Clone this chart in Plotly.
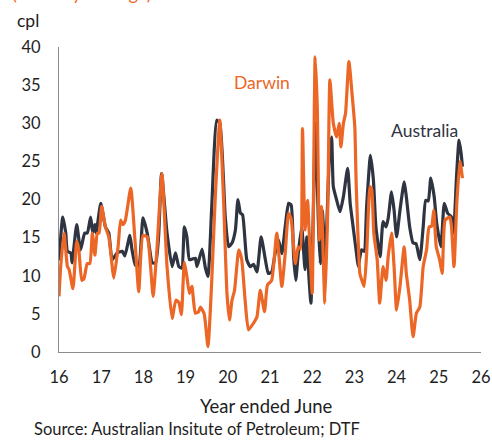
import plotly.graph_objects as go

# Australia (cents per litre), x in decimal "year ended June"
aus_x = [16.00, 16.09, 16.16, 16.20, 16.28, 16.31, 16.42, 16.51, 16.61, 16.67, 16.75, 16.80, 16.85, 16.88,
         16.99, 17.10, 17.18, 17.26, 17.38, 17.50, 17.56, 17.68, 17.73, 17.81, 17.89, 17.99, 18.09, 18.14,
         18.21, 18.29, 18.36, 18.43, 18.56, 18.68, 18.76, 18.84, 18.91, 18.97, 19.03, 19.09, 19.16, 19.23,
         19.27, 19.39, 19.47, 19.53, 19.62, 19.74, 19.81, 19.94, 20.02, 20.10, 20.18, 20.24, 20.30, 20.35,
         20.45, 20.53, 20.61, 20.69, 20.79, 20.89, 20.96, 21.04, 21.12, 21.20, 21.28, 21.36, 21.44, 21.50,
         21.56, 21.61, 21.67, 21.75, 21.83, 21.87, 21.92, 21.97, 22.03, 22.08, 22.15, 22.19, 22.24, 22.31,
         22.41, 22.46, 22.50, 22.58, 22.66, 22.74, 22.84, 22.90, 22.97, 23.05, 23.09, 23.17, 23.23, 23.29,
         23.38, 23.45, 23.51, 23.61, 23.68, 23.75, 23.80, 23.88, 23.94, 24.00, 24.08, 24.18, 24.23, 24.31,
         24.39, 24.46, 24.55, 24.63, 24.69, 24.75, 24.81, 24.89, 24.95, 25.05, 25.13, 25.21, 25.30, 25.35,
         25.42, 25.48, 25.53, 25.56]
aus_y = [12.0, 17.7, 15.6, 13.2, 13.0, 11.7, 16.7, 13.4, 15.6, 15.6, 17.7, 15.6, 16.7, 15.6,
         19.5, 16.4, 15.6, 12.1, 13.0, 13.2, 12.6, 15.3, 13.4, 11.4, 11.3, 17.6, 15.6, 13.8,
         11.7, 11.7, 15.1, 23.4, 15.6, 11.2, 13.0, 11.2, 11.0, 16.4, 15.1, 12.1, 12.2, 12.3,
         11.2, 13.5, 11.0, 9.9, 19.1, 30.4, 30.0, 17.7, 13.8, 14.3, 16.0, 20.0, 18.2, 18.0,
         12.1, 11.2, 11.5, 10.5, 15.1, 12.1, 10.3, 10.5, 12.9, 14.7, 12.9, 16.4, 19.5, 19.3,
         12.5, 9.4, 12.9, 16.4, 10.8, 15.1, 10.0, 6.4, 19.1, 30.0, 16.4, 11.6, 18.5, 12.5,
         26.0, 28.2, 21.7, 19.9, 18.4, 20.4, 24.1, 19.5, 16.4, 12.9, 11.2, 13.4, 13.2, 19.1,
         25.8, 22.6, 16.4, 12.5, 17.1, 16.4, 17.5, 21.0, 18.6, 15.1, 18.6, 22.3, 20.4, 16.4,
         14.3, 14.2, 12.1, 16.4, 19.9, 19.8, 22.8, 20.4, 16.9, 13.8, 19.5, 18.2, 17.7, 15.6,
         23.0, 27.8, 26.0, 24.3]

# Darwin (cents per litre)
dar_x = [16.00, 16.04, 16.12, 16.20, 16.24, 16.33, 16.42, 16.47, 16.54, 16.59, 16.67, 16.73, 16.79, 16.85,
         16.91, 16.95, 17.01, 17.10, 17.18, 17.30, 17.40, 17.46, 17.51, 17.57, 17.70, 17.80, 17.89, 17.99,
         18.09, 18.17, 18.23, 18.32, 18.44, 18.56, 18.68, 18.77, 18.84, 18.90, 18.97, 19.03, 19.09, 19.15,
         19.23, 19.31, 19.35, 19.44, 19.53, 19.62, 19.70, 19.81, 19.90, 19.98, 20.04, 20.10, 20.16, 20.26,
         20.33, 20.41, 20.49, 20.61, 20.69, 20.77, 20.87, 20.94, 21.04, 21.16, 21.28, 21.36, 21.44, 21.50,
         21.60, 21.67, 21.72, 21.77, 21.83, 21.89, 21.95, 22.00, 22.07, 22.12, 22.17, 22.22, 22.30, 22.37,
         22.42, 22.50, 22.58, 22.64, 22.68, 22.74, 22.79, 22.87, 22.95, 23.01, 23.04, 23.13, 23.17, 23.23,
         23.29, 23.37, 23.41, 23.46, 23.54, 23.60, 23.68, 23.75, 23.80, 23.88, 23.94, 24.00, 24.08, 24.18,
         24.23, 24.31, 24.39, 24.47, 24.55, 24.63, 24.71, 24.77, 24.83, 24.88, 24.94, 25.02, 25.08, 25.15,
         25.26, 25.30, 25.36, 25.43, 25.50, 25.56]
dar_y = [7.3, 11.2, 15.6, 11.2, 10.8, 8.3, 14.5, 13.4, 9.4, 9.6, 11.6, 11.6, 15.6, 12.7,
         15.6, 15.6, 19.1, 16.4, 15.1, 9.7, 13.8, 17.3, 16.7, 17.2, 21.5, 14.7, 7.9, 15.3,
         15.1, 11.2, 7.3, 13.4, 23.4, 11.2, 4.4, 6.8, 6.5, 4.9, 11.8, 9.9, 7.7, 8.6,
         5.1, 5.3, 5.9, 5.0, 0.7, 9.4, 19.9, 30.4, 19.9, 7.7, 4.2, 6.8, 8.1, 13.4,
         12.1, 6.8, 2.9, 3.8, 4.6, 8.1, 5.3, 8.8, 9.4, 15.6, 8.6, 12.9, 18.2, 17.5,
         11.6, 13.8, 13.5, 29.3, 16.0, 19.9, 12.9, 7.7, 38.7, 32.2, 14.7, 19.1, 6.4, 19.1,
         35.7, 30.0, 28.2, 30.0, 26.9, 30.0, 31.3, 38.1, 33.5, 29.5, 22.5, 10.3, 9.5, 8.6,
         12.9, 21.7, 21.3, 15.6, 12.1, 6.4, 11.2, 9.4, 12.5, 15.6, 11.2, 5.5, 8.6, 13.8,
         10.3, 6.8, 2.0, 5.1, 5.9, 11.2, 13.4, 16.4, 16.5, 18.6, 13.8, 12.1, 10.3, 17.3,
         17.7, 16.5, 11.2, 19.9, 25.0, 22.8]

x_ticks = [16, 17, 18, 19, 20, 21, 22, 23, 24, 25, 26]
y_ticks = [0, 5, 10, 15, 20, 25, 30, 35, 40]

ORANGE = "#EC6625"
DARK = "#2F3441"
TEXT = "#1E1E1E"
FONT = "Lato"

fig = go.Figure()
fig.add_trace(go.Scatter(x=aus_x, y=aus_y, mode="lines", name="Australia",
                         line=dict(color=DARK, width=3.2, shape="spline", smoothing=0.5)))
fig.add_trace(go.Scatter(x=dar_x, y=dar_y, mode="lines", name="Darwin",
                         line=dict(color=ORANGE, width=3.2, shape="spline", smoothing=0.5)))

fig.update_layout(
    width=492, height=440,
    margin=dict(l=59, r=11, t=47, b=88, autoexpand=False),
    paper_bgcolor="white", plot_bgcolor="white",
    showlegend=False,
    font=dict(family=FONT, size=16, color=TEXT),
)
fig.update_xaxes(range=[16, 26], tickvals=x_ticks, ticktext=[str(t) for t in x_ticks],
                 showgrid=False, zeroline=False, showline=True, linecolor="#8C8C8C", linewidth=1,
                 ticks="", ticklabelstandoff=10, automargin=False, tickfont=dict(size=16.5, color=TEXT))
fig.update_yaxes(range=[0, 40], tickvals=y_ticks, ticktext=[str(t) for t in y_ticks],
                 showgrid=False, zeroline=False, showline=True, linecolor="#8C8C8C", linewidth=1,
                 ticks="", ticklabelstandoff=14, automargin=False, tickfont=dict(size=16.5, color=TEXT))

fig.add_annotation(text="Darwin", x=20.82, y=35.3, xref="x", yref="y", showarrow=False,
                   xanchor="center", yanchor="middle",
                   font=dict(size=17.5, color=ORANGE, family=FONT))
fig.add_annotation(text="Australia", x=24.67, y=29.1, xref="x", yref="y", showarrow=False,
                   xanchor="center", yanchor="middle",
                   font=dict(size=17.5, color=DARK, family=FONT))
fig.add_annotation(text="cpl", x=-0.0735, y=1.0885, xref="paper", yref="paper", showarrow=False,
                   xanchor="center", yanchor="middle",
                   font=dict(size=17.5, color=TEXT, family=FONT))
fig.add_annotation(text="(monthly average)", x=-0.116, y=1.134, xref="paper", yref="paper",
                   xanchor="left", yanchor="bottom", showarrow=False,
                   font=dict(size=18, color=ORANGE, family=FONT))
fig.add_annotation(text="Year ended June", x=0.492, y=-0.178, xref="paper", yref="paper",
                   xanchor="center", yanchor="middle",
                   showarrow=False, font=dict(size=18.5, color=TEXT, family=FONT))
fig.add_annotation(text="Source: Australian Insitute of Petroleum; DTF", x=-0.064, y=-0.252,
                   xref="paper", yref="paper", xanchor="left", yanchor="middle", showarrow=False,
                   font=dict(size=16.5, color=TEXT, family=FONT))

fig.write_html("out.html", config={"displayModeBar": False},
               post_script="document.body.style.margin='0';")
